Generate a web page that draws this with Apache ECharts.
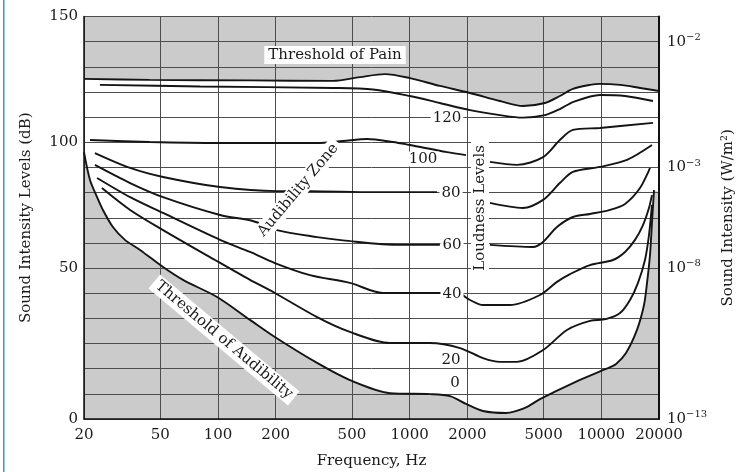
<!DOCTYPE html>
<html><head><meta charset="utf-8">
<script src="https://cdn.jsdelivr.net/npm/echarts@6/dist/echarts.min.js"></script>
<style>html,body{margin:0;padding:0;background:#fff}#c{width:746px;height:472px}</style>
</head><body><div id="c"></div>
<script>
// Frequencies (Hz) of the x-axis ticks
const freqTicks = [20, 50, 100, 200, 500, 1000, 2000, 5000, 10000, 20000];
// y axis runs in drawing units 0..160 (16 grid steps); labels as printed in the figure
const leftTickLabels = {0: '0', 60: '50', 110: '100', 160: '150'};
const rightTickExponents = {0: '−13', 60: '−8', 100: '−3', 150: '−2'};

// Curves: [frequency Hz, level in axis units]
const painThreshold = [[20,135.2],[44,134.8],[147,134.6],[398,134.4],[550,135.9],[744,137.1],[1004,135.5],[1438,132.4],[2065,129.6],[2960,126.4],[3900,124.4],[5080,125.6],[6080,128.4],[7110,131.2],[8730,132.8],[9840,133.2],[12530,132.8],[15930,131.6],[20000,130.4]];
const phon120 = [[24.2,132.8],[80.6,132.2],[398,131.6],[644,131.0],[1004,128.4],[1438,125.6],[2065,122.8],[2960,120.8],[3900,119.8],[5080,120.8],[6080,123.2],[7110,126.0],[9840,128.8],[13300,128.4],[18610,126.4]];
const phon100Left = [[21.5,110.9],[44,110.1],[102.5,109.7],[329,109.7],[449,110.5],[600,111.3],[819,110.1],[1004,108.9],[1566,106.1],[1968,104.9]];
const phon100Right = [[2625,102.2],[3630,101.0],[4970,104.1],[6080,110.9],[7110,114.9],[9840,115.7],[18610,117.7]];
const phon80Left = [[22.8,105.7],[34.8,99.8],[51.7,96.2],[102.5,92.2],[203,90.6],[302,90.6],[644,90.2],[1390,90.2]];
const phon80Right = [[2625,85.9],[3900,83.9],[4970,87.1],[6080,93.8],[7110,98.2],[9840,100.2],[13620,103.0],[18380,108.9]];
const phon60Left = [[22.8,101.0],[34.8,93.8],[51.7,88.2],[102.5,81.1],[152,78.7],[203,75.1],[329,72.3],[449,71.0],[890,69.2],[1438,69.2]];
const phon60Right = [[2625,69.2],[4400,68.4],[4970,70.4],[5870,76.3],[7110,80.3],[8730,81.5],[11100,83.1],[13300,85.5],[15920,91.8],[17950,99.8]];
const phon40 = [[23.4,95.8],[34.8,88.2],[51.7,81.9],[102.5,71.2],[147,66.4],[198,62.0],[302,57.2],[488,54.1],[726,50.1],[1438,50.1],[1832,49.7],[2065,47.3],[2414,45.3],[3340,45.3],[4786,49.3],[5870,54.5],[6870,57.6],[8730,61.2],[11500,63.2],[13300,66.4],[14990,71.2],[16500,77.1],[17730,83.9],[18380,89.0]];
const phon20 = [[24.8,91.8],[34.8,83.1],[51.7,75.1],[96.5,63.2],[147,55.3],[198,50.1],[329,40.5],[488,34.6],[790,30.2],[1277,30.2],[1832,28.2],[2414,24.2],[2960,22.7],[3630,22.7],[4970,27.4],[6620,35.4],[8730,39.0],[10570,39.7],[12520,42.1],[14120,47.3],[15540,54.1],[16900,63.2],[17730,73.1],[18380,85.1]];
const audibilityThreshold = [[20,106.1],[21.5,95.0],[23.4,88.2],[25.1,83.1],[28.3,76.3],[32.7,71.2],[39.2,67.2],[51.7,60.4],[65.7,55.3],[98.9,48.5],[147,39.4],[198,32.6],[329,22.3],[488,15.5],[790,10.3],[1277,9.9],[1624,9.1],[1968,6.0],[2414,3.2],[3182,2.4],[4000,4.4],[4786,7.9],[7118,14.3],[10570,19.9],[11940,21.9],[13450,26.2],[15350,35.4],[16700,45.3],[17320,54.1],[17950,65.2],[18380,77.9],[18830,91.0]];

// Annotations
const annotationTexts = ['Threshold of Pain','Audibility Zone','Threshold of Audibility','Loudness Levels','120','100','80','60','40','20','0'];
const annotationPositions = [[408,144.7],[262,91.0],[107.5,31.4],[2328,83.9],[1566,119.6],[1174,103.4],[1644,89.8],[1664,69.2],[1664,49.7],[1644,23.5],[1724,14.3]];
const annotationRotations = [0,50,-40,90,0,0,0,0,0,0,0];

// White (audible) zone outline: along the pain threshold, then back along the audibility threshold
const whiteZone = painThreshold.concat([[20000, 90]], audibilityThreshold.slice().reverse());

const FONT = 'DejaVu Serif';
const chart = echarts.init(document.getElementById('c'));

function curve(data) {
  return {
    type: 'line', data: data, showSymbol: false, smooth: 0.3, silent: true, z: 5,
    lineStyle: {color: '#141414', width: 1.9}, animation: false
  };
}

const curves = [painThreshold, phon120, phon100Left, phon100Right, phon80Left, phon80Right,
  phon60Left, phon60Right, phon40, phon20, audibilityThreshold];

const annotationData = annotationTexts.map((t, i) => ({
  value: annotationPositions[i],
  label: {
    show: true,
    formatter: t,
    rotate: annotationRotations[i],
    padding: i < 4 ? [2, 4, 1, 4] : [0, 2, 0, 2]
  }
}));

chart.setOption({
  animation: false,
  graphic: [{type: 'rect', left: 3, top: 0, shape: {width: 1.5, height: 472}, style: {fill: '#2e9fb8'}}],
  grid: {left: 84, right: 87, top: 16.5, bottom: 53, outerBoundsMode: 'none', containLabel: false,
    show: true, backgroundColor: '#cbcbcb', borderWidth: 0},
  xAxis: {
    type: 'log', logBase: 10, min: 20, max: 20000, z: 3,
    name: 'Frequency, Hz', nameLocation: 'middle', nameGap: 35,
    nameTextStyle: {fontFamily: FONT, fontSize: 15, color: '#1a1a1a'},
    axisLine: {show: true, lineStyle: {color: '#111', width: 1.5}},
    axisTick: {show: false, customValues: freqTicks},
    axisLabel: {customValues: freqTicks, fontFamily: FONT, fontSize: 15, color: '#1a1a1a', margin: 9,
      formatter: v => String(Math.round(v))},
    splitLine: {show: true, lineStyle: {color: '#4d4d4d', width: 1}}
  },
  yAxis: [{
    type: 'value', min: 0, max: 160, interval: 10, position: 'left', z: 3,
    name: 'Sound Intensity Levels (dB)', nameLocation: 'middle', nameGap: 50,
    nameTextStyle: {fontFamily: FONT, fontSize: 15, color: '#1a1a1a'},
    axisLine: {show: true, lineStyle: {color: '#111', width: 1.5}},
    axisTick: {show: false},
    axisLabel: {fontFamily: FONT, fontSize: 15, color: '#1a1a1a', margin: 6,
      formatter: v => leftTickLabels[v] !== undefined ? leftTickLabels[v] : ''},
    splitLine: {show: true, lineStyle: {color: '#4d4d4d', width: 1}}
  }, {
    type: 'value', min: 0, max: 160, interval: 10, position: 'right', z: 3,
    name: 'Sound Intensity (W/m²)', nameLocation: 'middle', nameGap: 62,
    nameTextStyle: {fontFamily: FONT, fontSize: 15, color: '#1a1a1a'},
    axisLine: {show: true, lineStyle: {color: '#111', width: 2}},
    axisTick: {show: false},
    axisLabel: {fontFamily: FONT, fontSize: 15, color: '#1a1a1a', margin: 8,
      formatter: v => rightTickExponents[v] !== undefined ? '{b|10}{s|' + rightTickExponents[v] + '}' : '',
      rich: {b: {fontFamily: FONT, fontSize: 15, color: '#1a1a1a'},
             s: {fontFamily: FONT, fontSize: 10, color: '#1a1a1a', padding: [0, 0, 9, 0]}}},
    splitLine: {show: false}
  }],
  series: [{
    type: 'custom', z: 1, silent: true, data: whiteZone,
    renderItem: (params, api) => {
      if (params.dataIndex !== 0) return null;
      return {type: 'polygon', shape: {points: whiteZone.map(p => api.coord(p)), smooth: 0}, style: {fill: '#ffffff'}};
    }
  }].concat(curves.map(curve)).concat([{
    type: 'scatter', z: 8, silent: true, symbolSize: 1, itemStyle: {color: 'rgba(0,0,0,0)', opacity: 1},
    data: annotationData,
    label: {show: true, position: 'inside', align: 'center', verticalAlign: 'middle',
      fontFamily: FONT, fontSize: 15, color: '#1a1a1a', backgroundColor: '#ffffff'}
  }])
});
</script></body></html>
